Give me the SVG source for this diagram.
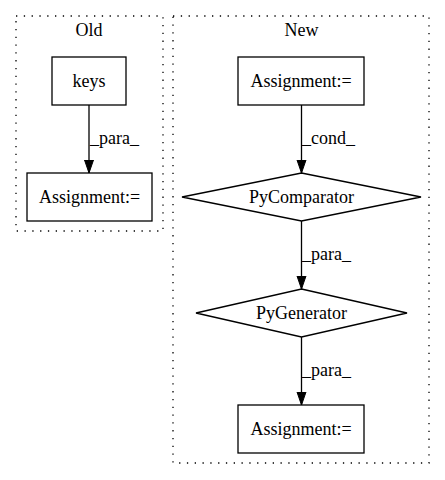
<svg xmlns="http://www.w3.org/2000/svg" width="445" height="480" viewBox="0 0 445 480">
<style>
text{font-family:"Liberation Serif","Times New Roman",serif;font-size:18px;fill:#000}
.c{text-anchor:middle}
.cl{fill:none;stroke:#000;stroke-width:1.3;stroke-dasharray:1.3,6.5}
.n{fill:#fff;stroke:#000;stroke-width:1.3}
.e{fill:none;stroke:#000;stroke-width:1.3}
</style>
<defs>
<marker id="ah" markerWidth="14" markerHeight="12" refX="13" refY="6" orient="auto" markerUnits="userSpaceOnUse">
<path d="M0,1.5 L13,6 L0,10.5 Z" fill="#000" stroke="#000" stroke-width="1"/>
</marker>
</defs>
<rect width="445" height="480" fill="#fff"/>
<g id="cluster_old">
<rect class="cl" x="16" y="16" width="147" height="215"/>
<text class="c" x="89" y="36">Old</text>
</g>
<g id="cluster_new">
<rect class="cl" x="173" y="16" width="256" height="447"/>
<text class="c" x="301.5" y="36">New</text>
</g>
<g id="connectors">
<path class="e" d="M89,105 L89,173" marker-end="url(#ah)"/>
<text x="90" y="144">_para_</text>
<path class="e" d="M301.5,105 L301.5,173" marker-end="url(#ah)"/>
<text x="302" y="144">_cond_</text>
<path class="e" d="M301.5,221 L301.5,289" marker-end="url(#ah)"/>
<text x="302" y="260">_para_</text>
<path class="e" d="M301.5,337 L301.5,405" marker-end="url(#ah)"/>
<text x="302" y="376">_para_</text>
</g>
<g id="keys">
<rect class="n" x="52" y="57" width="74" height="48"/>
<text class="c" x="89" y="87">keys</text>
</g>
<g id="old_assignment">
<rect class="n" x="27" y="173" width="125" height="48"/>
<text class="c" x="89.5" y="203">Assignment:=</text>
</g>
<g id="new_assignment_top">
<rect class="n" x="238" y="57" width="126" height="48"/>
<text class="c" x="301" y="87">Assignment:=</text>
</g>
<g id="pycomparator">
<polygon class="n" points="301.5,173 421,197 301.5,221 182,197"/>
<text class="c" x="301.5" y="203">PyComparator</text>
</g>
<g id="pygenerator">
<polygon class="n" points="301.5,289 407,313 301.5,337 196,313"/>
<text class="c" x="301.5" y="319">PyGenerator</text>
</g>
<g id="new_assignment_bottom">
<rect class="n" x="238" y="405" width="126" height="48"/>
<text class="c" x="301" y="435">Assignment:=</text>
</g>
</svg>
